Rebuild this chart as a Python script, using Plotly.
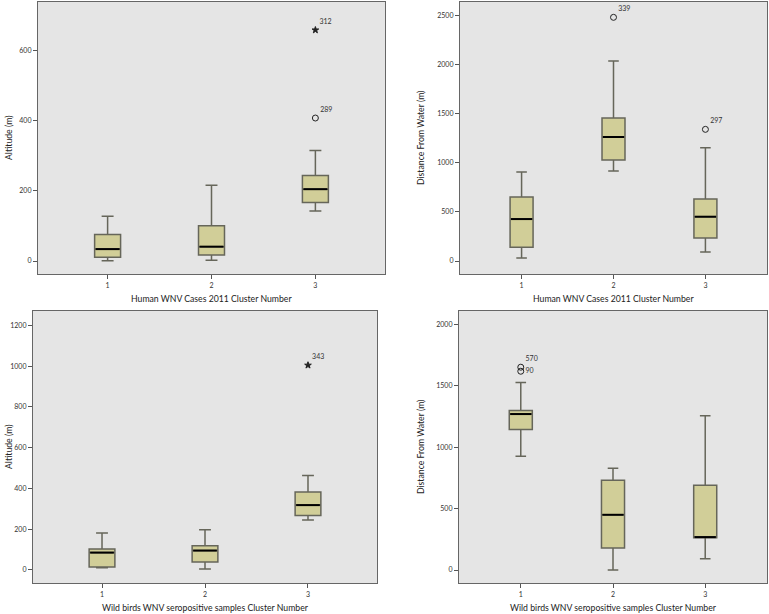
import plotly.graph_objects as go

W, H = 769, 614
clusters = [1, 2, 3]

# Panel data (q1, median, q3, lower whisker, upper whisker)
p1_low = [1, 2, 143]
p1_q1 = [11, 17, 167]
p1_med = [34, 41, 205]
p1_q3 = [76, 101, 244]
p1_up = [128, 216, 315]
p1_out_x = [3, 3]
p1_out_y = [408, 659]
p1_out_sym = ["circle-open", "star"]
p1_out_lbl = ["289", "312"]

p2_low = [31, 916, 92]
p2_q1 = [139, 1028, 234]
p2_med = [427, 1262, 451]
p2_q3 = [651, 1455, 631]
p2_up = [906, 2035, 1153]
p2_out_x = [2, 3]
p2_out_y = [2480, 1340]
p2_out_sym = ["circle-open", "circle-open"]
p2_out_lbl = ["339", "297"]

p3_low = [11, 5, 245]
p3_q1 = [15, 39, 267]
p3_med = [85, 95, 318]
p3_q3 = [103, 119, 382]
p3_up = [181, 197, 463]
p3_out_x = [3]
p3_out_y = [1004]
p3_out_sym = ["star"]
p3_out_lbl = ["343"]

p4_low = [927, 0, 92]
p4_q1 = [1146, 179, 263]
p4_med = [1271, 450, 268]
p4_q3 = [1301, 732, 691]
p4_up = [1528, 829, 1257]
p4_out_x = [1, 1]
p4_out_y = [1653, 1620]
p4_out_sym = ["circle-open", "circle-open"]
p4_out_lbl = ["570", "90"]

y_titles = ["Altitude (m)", "Distance From Water (m)", "Altitude (m)", "Distance From Water (m)"]
x_titles = ["Human WNV Cases 2011 Cluster Number", "Human WNV Cases 2011 Cluster Number",
            "Wild birds WNV seropositive samples Cluster Number",
            "Wild birds WNV seropositive samples Cluster Number"]

panels = [
    dict(low=p1_low, q1=p1_q1, med=p1_med, q3=p1_q3, up=p1_up, ox=p1_out_x, oy=p1_out_y,
         osym=p1_out_sym, olbl=p1_out_lbl, yr=[-37, 739], ytv=[0, 200, 400, 600],
         px=(38, 385), py=(2, 274)),
    dict(low=p2_low, q1=p2_q1, med=p2_med, q3=p2_q3, up=p2_up, ox=p2_out_x, oy=p2_out_y,
         osym=p2_out_sym, olbl=p2_out_lbl, yr=[-132, 2636], ytv=[0, 500, 1000, 1500, 2000, 2500],
         px=(460, 767), py=(2, 274)),
    dict(low=p3_low, q1=p3_q1, med=p3_med, q3=p3_q3, up=p3_up, ox=p3_out_x, oy=p3_out_y,
         osym=p3_out_sym, olbl=p3_out_lbl, yr=[-64, 1270], ytv=[0, 200, 400, 600, 800, 1000, 1200],
         px=(33, 377), py=(311, 583)),
    dict(low=p4_low, q1=p4_q1, med=p4_med, q3=p4_q3, up=p4_up, ox=p4_out_x, oy=p4_out_y,
         osym=p4_out_sym, olbl=p4_out_lbl, yr=[-106, 2111], ytv=[0, 500, 1000, 1500, 2000],
         px=(459, 767), py=(311, 583)),
]

FONT = "Lato"
BOX_FILL = "#d1ce98"
BOX_LINE = "#66665a"
BOX_W = 0.25

fig = go.Figure()
layout = dict(width=W, height=H, margin=dict(l=0, r=0, t=0, b=0),
              paper_bgcolor="white", showlegend=False, font=dict(family=FONT))
annotations = []

for i, p in enumerate(panels):
    n = i + 1
    xa = "x" if n == 1 else f"x{n}"
    ya = "y" if n == 1 else f"y{n}"
    fig.add_trace(go.Box(
        x=clusters, q1=p["q1"], median=p["med"], q3=p["q3"],
        lowerfence=p["low"], upperfence=p["up"],
        width=BOX_W, whiskerwidth=0.46, fillcolor=BOX_FILL,
        line=dict(color=BOX_LINE, width=1.5), boxpoints=False,
        xaxis=xa, yaxis=ya, hoverinfo="skip"))
    # emphasised median lines
    for c, m in zip(clusters, p["med"]):
        fig.add_trace(go.Scatter(
            x=[c - BOX_W / 2 + 0.01, c + BOX_W / 2 - 0.01], y=[m, m], mode="lines",
            line=dict(color="black", width=2), xaxis=xa, yaxis=ya, hoverinfo="skip"))
    # outliers
    for ox, oy, sym, lbl in zip(p["ox"], p["oy"], p["osym"], p["olbl"]):
        fig.add_trace(go.Scatter(
            x=[ox], y=[oy], mode="markers+text", text=[lbl],
            textposition="top right" if lbl != "90" else "middle right",
            textfont=dict(size=7, color="#333", family=FONT),
            marker=dict(symbol=sym, size=6 if "circle" in sym else 5, color="#222",
                        line=dict(color="#222", width=1)),
            xaxis=xa, yaxis=ya, hoverinfo="skip"))
    x0, x1 = p["px"]
    y0, y1 = p["py"]
    layout["xaxis" if n == 1 else f"xaxis{n}"] = dict(
        domain=[x0 / W, x1 / W], anchor=ya, range=[0.33, 3.67],
        tickvals=clusters, ticktext=[str(c) for c in clusters],
        ticks="outside", ticklen=4, tickcolor="#555", showgrid=False, zeroline=False,
        showline=True, mirror=True, linecolor="#666", linewidth=1.2,
        tickfont=dict(size=7, color="#333", family=FONT))
    layout["yaxis" if n == 1 else f"yaxis{n}"] = dict(
        domain=[1 - y1 / H, 1 - y0 / H], anchor=xa, range=p["yr"],
        tickvals=p["ytv"], ticks="outside", ticklen=4, tickcolor="#555",
        showgrid=False, zeroline=False, showline=True, mirror=True,
        linecolor="#666", linewidth=1.2,
        tickfont=dict(size=7, color="#333", family=FONT))
    # plot background rect
    fig.add_shape(type="rect", xref="paper", yref="paper",
                  x0=x0 / W, x1=x1 / W, y0=1 - y1 / H, y1=1 - y0 / H,
                  fillcolor="#e5e5e5", line=dict(width=0), layer="below")
    annotations.append(dict(
        text=x_titles[i], xref="paper", yref="paper",
        x=(x0 + x1) / 2 / W, y=1 - (y1 + 24) / H, showarrow=False,
        xanchor="center", yanchor="middle", font=dict(size=8.7, color="#222", family=FONT)))
    ytx = 8 if n in (1, 3) else 420
    annotations.append(dict(
        text=y_titles[i], xref="paper", yref="paper",
        x=ytx / W, y=1 - (y0 + y1) / 2 / H, showarrow=False, textangle=-90,
        xanchor="center", yanchor="middle", font=dict(size=8.7, color="#222", family=FONT)))

layout["annotations"] = annotations
layout["plot_bgcolor"] = "rgba(0,0,0,0)"
fig.update_layout(**layout)
fig.write_html("out.html", config={"displayModeBar": False},
               post_script="document.body.style.margin='0px';document.body.style.overflow='hidden';")
